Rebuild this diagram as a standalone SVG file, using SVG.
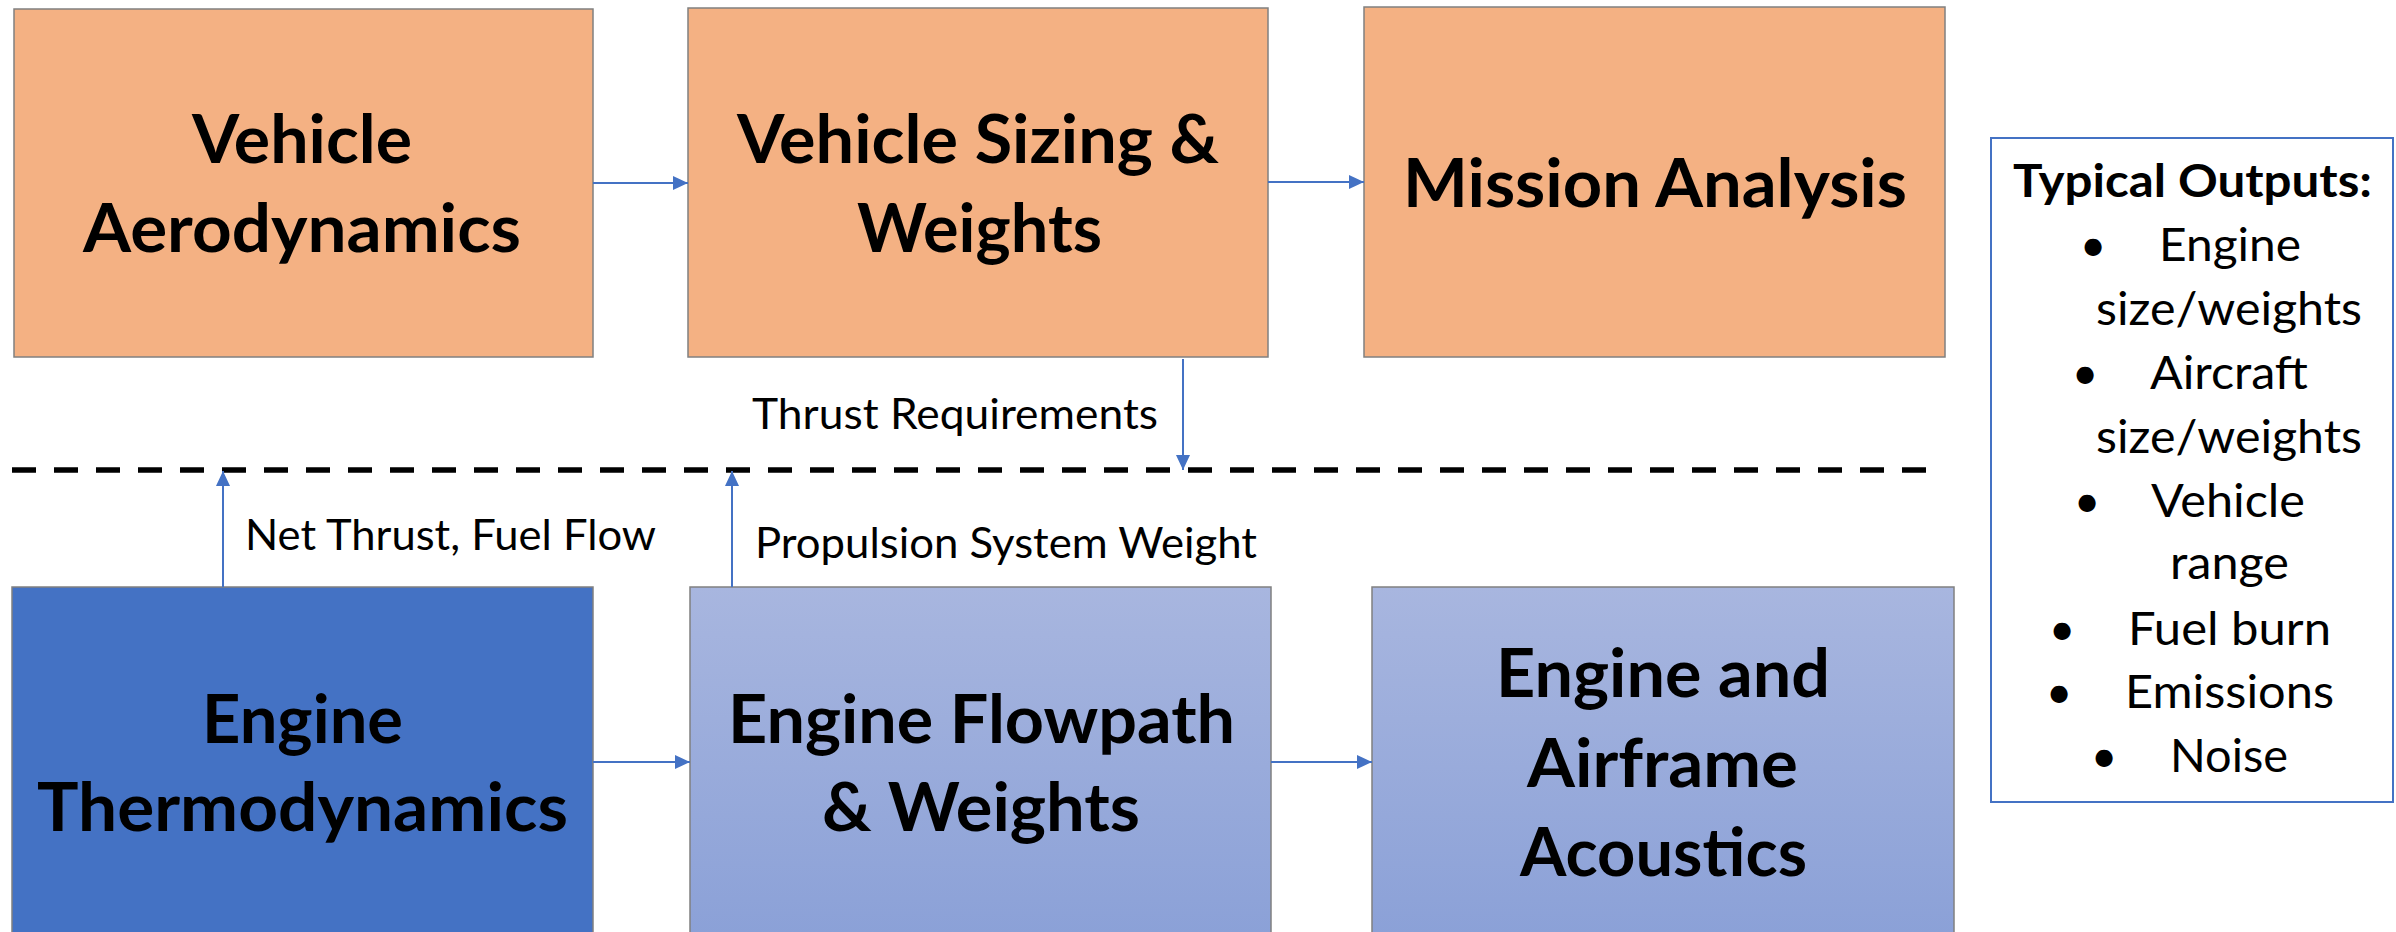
<svg xmlns="http://www.w3.org/2000/svg" width="2396" height="932" viewBox="0 0 2396 932">
  <style>
    .box { stroke: #808080; stroke-width: 1.5; }
    .orange { fill: #F4B183; }
    .dark { fill: #4472C4; }
    .light { fill: url(#lightGrad); }
    .title { font-family: Lato, "Liberation Sans", sans-serif; font-weight: 700; font-size: 66px; fill: #000; text-anchor: middle; }
    .label { font-family: Lato, "Liberation Sans", sans-serif; font-size: 42px; fill: #000; text-anchor: middle; }
    .out { font-family: Lato, "Liberation Sans", sans-serif; font-size: 46px; fill: #000; text-anchor: middle; }
    .outHead { font-family: Lato, "Liberation Sans", sans-serif; font-size: 46px; font-weight: 700; fill: #000; text-anchor: middle; }
    .conn { stroke: #4472C4; stroke-width: 2; fill: none; marker-end: url(#arrow); }
  </style>
  <defs>
    <linearGradient id="lightGrad" x1="0" y1="0" x2="0" y2="1">
      <stop offset="0" stop-color="#A8B6DF"/>
      <stop offset="1" stop-color="#8AA0D7"/>
    </linearGradient>
    <marker id="arrow" viewBox="0 0 15 14" refX="15" refY="7" markerWidth="15" markerHeight="14" markerUnits="userSpaceOnUse" orient="auto">
      <path d="M0,0 L15,7 L0,14 Z" fill="#4472C4"/>
    </marker>
  </defs>

  <rect width="2396" height="932" fill="#FFFFFF"/>

  <!-- upper tier: vehicle analysis -->
  <g id="vehicle-aerodynamics">
    <rect class="box orange" x="14" y="9" width="579" height="348"/>
    <text class="title" x="302" y="163" textLength="220" lengthAdjust="spacingAndGlyphs">Vehicle</text>
    <text class="title" x="302" y="252" textLength="438" lengthAdjust="spacingAndGlyphs">Aerodynamics</text>
  </g>
  <g id="vehicle-sizing-weights">
    <rect class="box orange" x="688" y="8" width="580" height="349"/>
    <text class="title" x="978" y="163" textLength="482" lengthAdjust="spacingAndGlyphs">Vehicle Sizing &amp;</text>
    <text class="title" x="979.5" y="252" textLength="245" lengthAdjust="spacingAndGlyphs">Weights</text>
  </g>
  <g id="mission-analysis">
    <rect class="box orange" x="1364" y="7" width="581" height="350"/>
    <text class="title" x="1655" y="207" textLength="504" lengthAdjust="spacingAndGlyphs">Mission Analysis</text>
  </g>

  <!-- lower tier: propulsion analysis -->
  <g id="engine-thermodynamics">
    <rect class="box dark" x="12" y="587" width="581" height="360"/>
    <text class="title" x="302.5" y="743" textLength="201" lengthAdjust="spacingAndGlyphs">Engine</text>
    <text class="title" x="302.5" y="831" textLength="531" lengthAdjust="spacingAndGlyphs">Thermodynamics</text>
  </g>
  <g id="engine-flowpath-weights">
    <rect class="box light" x="690" y="587" width="581" height="360"/>
    <text class="title" x="981.5" y="743" textLength="507" lengthAdjust="spacingAndGlyphs">Engine Flowpath</text>
    <text class="title" x="981" y="831" textLength="318" lengthAdjust="spacingAndGlyphs">&amp; Weights</text>
  </g>
  <g id="engine-airframe-acoustics">
    <rect class="box light" x="1372" y="587" width="582" height="360"/>
    <text class="title" x="1663" y="697" textLength="334" lengthAdjust="spacingAndGlyphs">Engine and</text>
    <text class="title" x="1662.5" y="787" textLength="271" lengthAdjust="spacingAndGlyphs">Airframe</text>
    <text class="title" x="1663.5" y="876" textLength="287" lengthAdjust="spacingAndGlyphs">Acoustics</text>
  </g>

  <!-- outputs summary -->
  <g id="typical-outputs">
    <rect x="1991" y="138" width="402" height="664" fill="#FFFFFF" stroke="#4472C4" stroke-width="2"/>
    <text class="outHead" x="2192.5" y="197" textLength="359" lengthAdjust="spacingAndGlyphs">Typical Outputs:</text>
    <text class="out" x="2093" y="261">•</text>
    <text class="out" x="2230" y="261" textLength="142" lengthAdjust="spacingAndGlyphs">Engine</text>
    <text class="out" x="2229" y="325" textLength="266" lengthAdjust="spacingAndGlyphs">size/weights</text>
    <text class="out" x="2085" y="389">•</text>
    <text class="out" x="2229" y="389" textLength="158" lengthAdjust="spacingAndGlyphs">Aircraft</text>
    <text class="out" x="2229" y="453" textLength="266" lengthAdjust="spacingAndGlyphs">size/weights</text>
    <text class="out" x="2087" y="517">•</text>
    <text class="out" x="2228" y="517" textLength="154" lengthAdjust="spacingAndGlyphs">Vehicle</text>
    <text class="out" x="2229.5" y="579" textLength="119" lengthAdjust="spacingAndGlyphs">range</text>
    <text class="out" x="2062" y="645">•</text>
    <text class="out" x="2229.5" y="645" textLength="203" lengthAdjust="spacingAndGlyphs">Fuel burn</text>
    <text class="out" x="2059" y="708">•</text>
    <text class="out" x="2229.5" y="708" textLength="209" lengthAdjust="spacingAndGlyphs">Emissions</text>
    <text class="out" x="2104" y="772">•</text>
    <text class="out" x="2229" y="772" textLength="118" lengthAdjust="spacingAndGlyphs">Noise</text>
  </g>

  <!-- boundary between vehicle and propulsion tiers -->
  <line id="tier-divider" x1="12" y1="470" x2="1943" y2="470" stroke="#000000" stroke-width="5.5" stroke-dasharray="24 18"/>

  <!-- data flow connectors -->
  <g id="connectors">
    <line class="conn" x1="593" y1="183" x2="688" y2="183"/>
    <line class="conn" x1="1268" y1="182" x2="1364" y2="182"/>
    <line class="conn" x1="1183" y1="359" x2="1183" y2="470"/>
    <line class="conn" x1="223" y1="587" x2="223" y2="471"/>
    <line class="conn" x1="732" y1="587" x2="732" y2="471"/>
    <line class="conn" x1="593" y1="762" x2="690" y2="762"/>
    <line class="conn" x1="1271" y1="762" x2="1372" y2="762"/>
    <text class="label" x="955" y="429" textLength="406" lengthAdjust="spacingAndGlyphs">Thrust Requirements</text>
    <text class="label" x="450.5" y="550" textLength="411" lengthAdjust="spacingAndGlyphs">Net Thrust, Fuel Flow</text>
    <text class="label" x="1006" y="558" textLength="502" lengthAdjust="spacingAndGlyphs">Propulsion System Weight</text>
  </g>
</svg>
